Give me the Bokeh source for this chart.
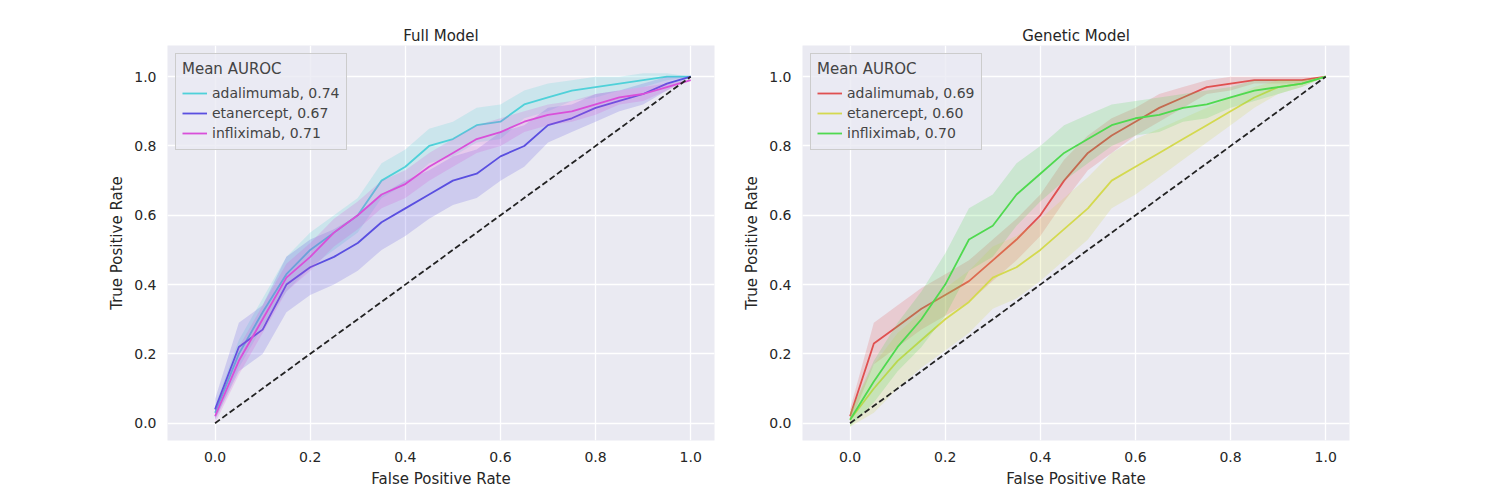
from bokeh.plotting import figure
from bokeh.layouts import row
from bokeh.models import Legend, LegendItem, NumeralTickFormatter
from bokeh.embed import file_html
from bokeh.resources import INLINE

fpr = [0, 0.05, 0.1, 0.15, 0.2, 0.25, 0.3, 0.35, 0.4, 0.45, 0.5,
       0.55, 0.6, 0.65, 0.7, 0.75, 0.8, 0.85, 0.9, 0.95, 1.0]

drugs = ["adalimumab", "etanercept", "infliximab"]

full_tpr = {
    "adalimumab": [0.03, 0.2, 0.32, 0.43, 0.5, 0.55, 0.6, 0.7, 0.74, 0.8, 0.82,
                   0.86, 0.87, 0.92, 0.94, 0.96, 0.97, 0.98, 0.99, 1.0, 1.0],
    "etanercept": [0.04, 0.22, 0.27, 0.4, 0.45, 0.48, 0.52, 0.58, 0.62, 0.66, 0.7,
                   0.72, 0.77, 0.8, 0.86, 0.88, 0.91, 0.93, 0.95, 0.98, 1.0],
    "infliximab": [0.02, 0.18, 0.3, 0.42, 0.48, 0.55, 0.6, 0.66, 0.69, 0.74, 0.78,
                   0.82, 0.84, 0.87, 0.89, 0.9, 0.92, 0.94, 0.95, 0.97, 0.99],
}
full_sd = {
    "adalimumab": [0.02, 0.04, 0.04, 0.05, 0.05, 0.05, 0.05, 0.05, 0.05, 0.05, 0.05,
                   0.05, 0.05, 0.04, 0.04, 0.03, 0.03, 0.02, 0.02, 0.01, 0.0],
    "etanercept": [0.03, 0.07, 0.07, 0.08, 0.08, 0.08, 0.08, 0.08, 0.08, 0.07, 0.07,
                   0.07, 0.07, 0.06, 0.05, 0.04, 0.04, 0.03, 0.03, 0.02, 0.0],
    "infliximab": [0.02, 0.04, 0.04, 0.04, 0.04, 0.04, 0.04, 0.04, 0.04, 0.04, 0.04,
                   0.04, 0.04, 0.03, 0.03, 0.03, 0.03, 0.02, 0.02, 0.01, 0.0],
}
full_auc = [0.74, 0.67, 0.71]
full_colors = ["#4fd1d9", "#5a4fe0", "#d94fd9"]

gen_tpr = {
    "adalimumab": [0.02, 0.23, 0.28, 0.33, 0.37, 0.41, 0.47, 0.53, 0.6, 0.7, 0.78,
                   0.83, 0.87, 0.91, 0.94, 0.97, 0.98, 0.99, 0.99, 0.99, 1.0],
    "etanercept": [0.01, 0.1, 0.18, 0.24, 0.3, 0.35, 0.42, 0.45, 0.5, 0.56, 0.62,
                   0.7, 0.74, 0.78, 0.82, 0.86, 0.9, 0.94, 0.97, 0.98, 1.0],
    "infliximab": [0.01, 0.12, 0.22, 0.3, 0.4, 0.53, 0.57, 0.66, 0.72, 0.78, 0.82,
                   0.86, 0.88, 0.89, 0.91, 0.92, 0.94, 0.96, 0.97, 0.98, 1.0],
}
gen_sd = {
    "adalimumab": [0.02, 0.06, 0.06, 0.06, 0.06, 0.06, 0.06, 0.06, 0.06, 0.06, 0.05,
                   0.05, 0.04, 0.04, 0.03, 0.02, 0.02, 0.01, 0.01, 0.01, 0.0],
    "etanercept": [0.02, 0.07, 0.08, 0.08, 0.09, 0.09, 0.09, 0.09, 0.09, 0.09, 0.09,
                   0.08, 0.08, 0.07, 0.06, 0.05, 0.04, 0.03, 0.02, 0.01, 0.0],
    "infliximab": [0.02, 0.06, 0.07, 0.08, 0.09, 0.09, 0.09, 0.09, 0.08, 0.08, 0.07,
                   0.06, 0.05, 0.05, 0.04, 0.04, 0.03, 0.03, 0.02, 0.01, 0.0],
}
gen_auc = [0.69, 0.60, 0.70]
gen_colors = ["#e05050", "#d4d94f", "#4fd94f"]

ticks = [0.0, 0.2, 0.4, 0.6, 0.8, 1.0]


def make_panel(title, tpr, sd, auc, colors, width, left, right):
    p = figure(width=width, height=490, title=title, output_backend="svg",
               toolbar_location=None, x_range=(-0.1, 1.05), y_range=(-0.05, 1.09),
               min_border_left=left, min_border_right=right,
               min_border_top=45, min_border_bottom=45,
               x_axis_label="False Positive Rate", y_axis_label="True Positive Rate")
    p.background_fill_color = "#eaeaf2"
    p.outline_line_color = None
    p.title.align = "center"
    p.title.text_font = "DejaVu Sans"
    p.title.text_font_size = "15px"
    p.title.text_font_style = "normal"
    p.title.text_color = "#262626"
    p.title.standoff = 2
    p.grid.grid_line_color = "white"
    p.grid.grid_line_width = 1.3
    for ax in (p.xaxis, p.yaxis):
        ax.ticker = ticks
        ax.formatter = NumeralTickFormatter(format="0.0")
        ax.axis_line_color = None
        ax.major_tick_line_color = None
        ax.minor_tick_line_color = None
        ax.major_label_text_font = "DejaVu Sans"
        ax.major_label_text_font_size = "14px"
        ax.major_label_text_color = "#262626"
        ax.axis_label_text_font = "DejaVu Sans"
        ax.axis_label_text_font_size = "15px"
        ax.axis_label_text_font_style = "normal"
        ax.axis_label_text_color = "#262626"
    p.xgrid.ticker = ticks
    p.ygrid.ticker = ticks
    items = []
    for d, a, c in zip(drugs, auc, colors):
        lo = [m - s for m, s in zip(tpr[d], sd[d])]
        hi = [m + s for m, s in zip(tpr[d], sd[d])]
        p.varea(x=fpr, y1=lo, y2=hi, fill_color=c, fill_alpha=0.2)
        r = p.line(fpr, tpr[d], line_color=c, line_width=1.8)
        items.append(LegendItem(label=f"{d}, {a:.2f}", renderers=[r]))
    p.line([0, 1], [0, 1], line_color="#222222", line_width=1.8, line_dash="6 3")
    leg = Legend(items=items, location="top_left", title="Mean AUROC")
    leg.title_text_font = "DejaVu Sans"
    leg.title_text_font_size = "15px"
    leg.title_text_font_style = "normal"
    leg.label_text_font = "DejaVu Sans"
    leg.label_text_font_size = "14px"
    leg.background_fill_color = "#eaeaf2"
    leg.background_fill_alpha = 0.8
    leg.border_line_color = "#cccccc"
    leg.border_line_alpha = 1.0
    leg.glyph_width = 25
    leg.spacing = 0
    leg.padding = 6
    leg.margin = 8
    p.add_layout(leg)
    return p


p1 = make_panel("Full Model", full_tpr, full_sd, full_auc, full_colors, 728, 167, 14)
p2 = make_panel("Genetic Model", gen_tpr, gen_sd, gen_auc, gen_colors, 651, 74, 30)
p = row(p1, p2)

open("out.html", "w").write(file_html(p, INLINE))
